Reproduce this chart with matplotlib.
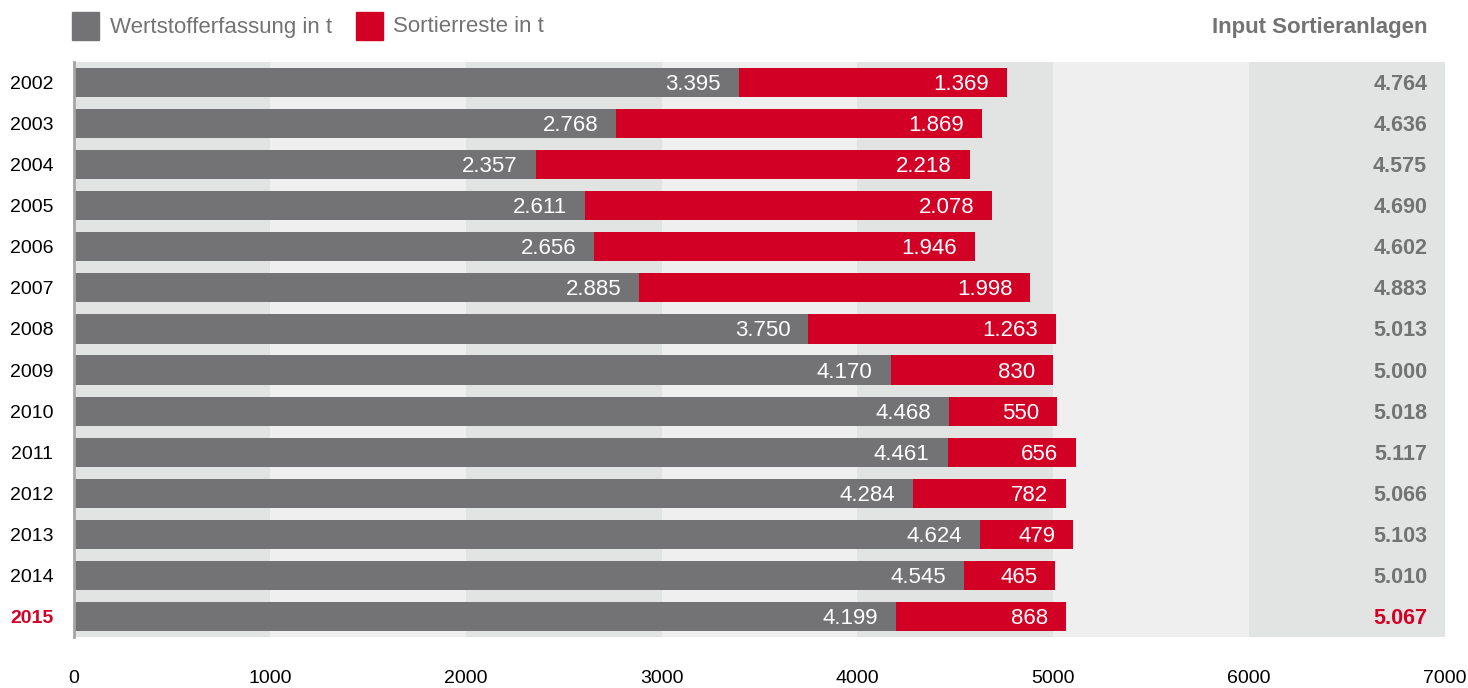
import matplotlib.pyplot as plt
from matplotlib.patches import Rectangle

plt.rcParams['font.family'] = ['Liberation Sans', 'DejaVu Sans']

years = ['2002', '2003', '2004', '2005', '2006', '2007', '2008',
         '2009', '2010', '2011', '2012', '2013', '2014', '2015']
wertstoff = [3395, 2768, 2357, 2611, 2656, 2885, 3750,
             4170, 4468, 4461, 4284, 4624, 4545, 4199]
sortierreste = [1369, 1869, 2218, 2078, 1946, 1998, 1263,
                830, 550, 656, 782, 479, 465, 868]
input_total = [4764, 4636, 4575, 4690, 4602, 4883, 5013,
               5000, 5018, 5117, 5066, 5103, 5010, 5067]
x_ticks = [0, 1000, 2000, 3000, 4000, 5000, 6000, 7000]

GRAY = '#737375'
RED = '#d20025'
TXT_GRAY = '#737373'
BAND_DARK = '#e2e3e3'
BAND_LIGHT = '#efefef'


def fmt(v):
    # german thousands separator
    return f"{v:,}".replace(",", ".")


fig = plt.figure(figsize=(14.68, 6.88), dpi=100, facecolor='white')
ax = fig.add_axes([74 / 1468, 51 / 688, 1371 / 1468, 575 / 688])

# alternating background bands
for i in range(len(x_ticks) - 1):
    ax.axvspan(x_ticks[i], x_ticks[i + 1],
               color=BAND_DARK if i % 2 == 0 else BAND_LIGHT, lw=0, zorder=0)

pos = list(range(len(years)))
ax.barh(pos, wertstoff, height=0.71, color=GRAY, zorder=2)
ax.barh(pos, sortierreste, left=wertstoff, height=0.71, color=RED, zorder=2)

# value labels inside the segments, totals on the right
ytrans = ax.get_yaxis_transform()
for i in pos:
    ax.annotate(fmt(wertstoff[i]), (wertstoff[i], i), xytext=(-18, -2),
                textcoords='offset pixels', ha='right', va='center',
                color='white', fontsize=16, zorder=3)
    end = wertstoff[i] + sortierreste[i]
    ax.annotate(fmt(sortierreste[i]), (end, i), xytext=(-18, -2),
                textcoords='offset pixels', ha='right', va='center',
                color='white', fontsize=16, zorder=3)
    ax.annotate(fmt(input_total[i]), (0.987, i), xycoords=ytrans,
                xytext=(0, -2), textcoords='offset pixels',
                ha='right', va='center', fontsize=15.5, fontweight='bold',
                color=RED if i == len(years) - 1 else TXT_GRAY, zorder=3)

ax.set_xlim(0, 7000)
ax.set_ylim(len(years) - 0.5, -0.5)

ax.set_yticks(pos)
ax.set_yticklabels(years, fontsize=14)
ax.get_yticklabels()[-1].set_color(RED)
ax.get_yticklabels()[-1].set_fontweight('bold')
ax.set_xticks(x_ticks)
ax.set_xticklabels([str(t) for t in x_ticks], fontsize=14)
ax.tick_params(axis='y', length=0, pad=15)
ax.tick_params(axis='x', length=0, pad=24)

for s in ['top', 'right', 'bottom']:
    ax.spines[s].set_visible(False)
ax.spines['left'].set_color('#a5a5a5')
ax.spines['left'].set_linewidth(2)
ax.spines['left'].set_zorder(4)

# legend at the top
fig.patches.append(Rectangle((72 / 1468, 1 - 40 / 688), 27 / 1468, 28 / 688,
                             transform=fig.transFigure, color=GRAY))
fig.text(110 / 1468, 1 - 27 / 688, 'Wertstofferfassung in t', fontsize=16,
         color=TXT_GRAY, va='center', ha='left')
fig.patches.append(Rectangle((356 / 1468, 1 - 40 / 688), 27 / 1468, 28 / 688,
                             transform=fig.transFigure, color=RED))
fig.text(393 / 1468, 1 - 27 / 688, 'Sortierreste in t', fontsize=16,
         color=TXT_GRAY, va='center', ha='left')
fig.text(1427 / 1468, 1 - 27 / 688, 'Input Sortieranlagen', fontsize=16,
         fontweight='bold', color=TXT_GRAY, va='center', ha='right')

fig.savefig('out.png', dpi=100, facecolor='white')
